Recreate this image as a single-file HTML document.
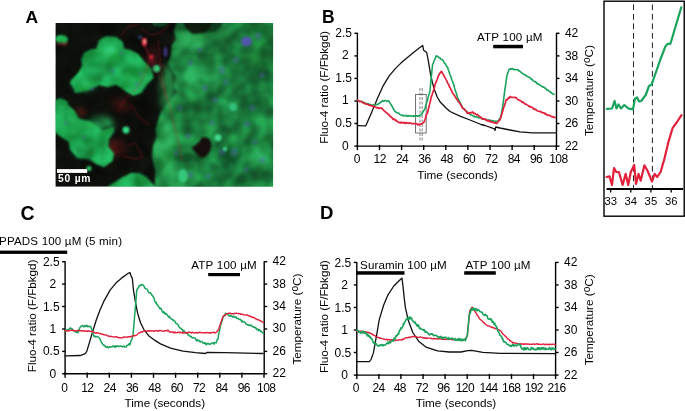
<!DOCTYPE html>
<html><head><meta charset="utf-8"><title>Figure</title>
<style>
html,body{margin:0;padding:0;background:#fff;}
body{width:685px;height:411px;overflow:hidden;}
svg{display:block;font-family:"Liberation Sans",Arial,sans-serif;}
</style></head><body>
<svg width="685" height="411" viewBox="0 0 685 411">
<defs>
<clipPath id="ca"><rect x="55.4" y="23.0" width="217.7" height="163.7"/></clipPath>
<filter id="b1" x="-20%" y="-20%" width="140%" height="140%"><feGaussianBlur stdDeviation="1.1"/></filter>
<filter id="b2" x="-20%" y="-20%" width="140%" height="140%"><feGaussianBlur stdDeviation="0.8"/></filter>
<filter id="b3" x="-30%" y="-30%" width="160%" height="160%"><feGaussianBlur stdDeviation="3"/></filter>
<filter id="nz" x="0" y="0" width="100%" height="100%" color-interpolation-filters="sRGB"><feTurbulence type="fractalNoise" baseFrequency="0.06" numOctaves="2" seed="11" result="t"/><feColorMatrix in="t" type="matrix" values="1.8 0 0 0 -0.45  1.8 0 0 0 -0.45  1.8 0 0 0 -0.45  0 0 0 0 1"/></filter>
</defs>
<g clip-path="url(#ca)">
<rect x="55.4" y="23.0" width="217.7" height="163.7" fill="#0d0f0b"/>
<g filter="url(#b3)" opacity="0.55">
<ellipse cx="116" cy="148" rx="10" ry="8" fill="#6a1418"/>
<ellipse cx="80" cy="113" rx="7" ry="4" fill="#6a1418"/>
<ellipse cx="122" cy="107" rx="9" ry="4" fill="#5a1216"/>
<ellipse cx="118" cy="100" rx="8" ry="4" fill="#3a0c10"/>
<ellipse cx="152" cy="60" rx="6" ry="14" fill="#4a1014"/>
</g>
<g filter="url(#b1)">
<polygon points="176.7,20.0 173.8,31.7 176.7,39.5 171.8,45.3 170.9,55.0 167.9,62.8 171.8,70.6 175.7,76.4 173.8,86.1 176.7,92.0 172.0,98.0 166.5,104.6 160.4,111.9 158.0,121.6 155.5,130.0 156.8,137.4 153.1,146.0 151.9,155.7 154.3,165.4 155.5,172.7 154.3,190.0 280.0,190.0 280.0,18.0" fill="#1c7e3c"/>
<polygon points="70.1,82.8 75.2,93.0 87.1,91.3 99.1,84.9 107.6,87.1 116.1,84.9 122.9,89.6 133.1,95.6 141.7,93.0 146.8,84.5 153.6,77.7 151.9,69.2 145.1,62.4 138.3,53.9 129.7,49.6 123.8,48.7 122.9,41.9 116.1,36.8 105.9,36.0 99.1,40.2 96.5,48.7 90.6,49.6 83.7,53.0 81.2,59.0 82.0,65.8 78.6,72.6 71.8,79.4" fill="#1ca24e"/>
<polygon points="74.6,110.7 79.0,118.8 89.2,120.5 96.5,126.1 102.3,130.4 108.2,128.2 113.3,126.8 114.3,131.9 108.9,139.2 108.2,146.5 114.0,153.8 112.6,161.1 103.8,167.2 96.5,164.3 89.2,159.6 77.5,158.2 70.2,149.4 68.8,142.1 60.0,136.3 53.4,130.4 53.4,102.7 62.9,103.4 68.8,105.6" fill="#1ca24e"/>
<polygon points="53.0,107.0 55.0,100.0 61.0,98.0 67.0,101.0 69.0,107.0" fill="#1ca24e"/>
<polygon points="106.0,188.0 115.0,182.0 123.0,177.0 131.0,173.0 139.0,173.0 147.0,177.0 151.0,182.0 156.0,188.0" fill="#1ca24e"/>
<polygon points="151.7,21.0 153.7,25.4 161.6,27.0 167.6,25.4 169.6,21.0" fill="#14502c"/>
<ellipse cx="61.5" cy="39.2" rx="6.6" ry="4.2" fill="#25bd62"/>
<ellipse cx="62" cy="44" rx="6" ry="1.6" fill="#7a2028" opacity="0.8"/>
</g>
<g filter="url(#b3)">
<ellipse cx="192" cy="40" rx="16" ry="9" fill="#2eb45e" opacity="0.8"/>
<ellipse cx="168" cy="90" rx="8" ry="26" fill="#2bb05a" opacity="0.7"/>
<ellipse cx="166" cy="150" rx="9" ry="30" fill="#2bb05a" opacity="0.75"/>
<ellipse cx="180" cy="178" rx="14" ry="8" fill="#2eb45e" opacity="0.7"/>
<ellipse cx="205" cy="75" rx="22" ry="18" fill="#26a052" opacity="0.6"/>
<ellipse cx="250" cy="40" rx="14" ry="10" fill="#29a856" opacity="0.6"/>
<ellipse cx="262" cy="150" rx="10" ry="22" fill="#29a856" opacity="0.6"/>
<ellipse cx="232" cy="110" rx="16" ry="10" fill="#26a052" opacity="0.5"/>
<ellipse cx="250" cy="90" rx="18" ry="22" fill="#176c34" opacity="0.55"/>
<ellipse cx="258" cy="48" rx="18" ry="26" fill="#125c28" opacity="0.6"/>
<ellipse cx="226" cy="36" rx="12" ry="10" fill="#14602f" opacity="0.45"/>
<ellipse cx="225" cy="165" rx="26" ry="14" fill="#187238" opacity="0.55"/>
<ellipse cx="215" cy="50" rx="14" ry="10" fill="#187238" opacity="0.4"/>
<ellipse cx="240" cy="130" rx="14" ry="12" fill="#1a773a" opacity="0.4"/>
</g>
<g filter="url(#b3)">
<ellipse cx="110" cy="52" rx="12" ry="8" fill="#2bc466" opacity="0.7"/>
<ellipse cx="85" cy="85" rx="10" ry="6" fill="#2bc466" opacity="0.7"/>
<ellipse cx="135" cy="80" rx="12" ry="8" fill="#29c062" opacity="0.6"/>
<ellipse cx="100" cy="125" rx="14" ry="8" fill="#2bc466" opacity="0.7"/>
<ellipse cx="70" cy="125" rx="10" ry="10" fill="#23b458" opacity="0.5"/>
<ellipse cx="100" cy="72" rx="14" ry="8" fill="#178a48" opacity="0.5"/>
<ellipse cx="85" cy="150" rx="12" ry="8" fill="#1a9550" opacity="0.4"/>
</g>
<rect x="55.4" y="23.0" width="217.7" height="163.7" filter="url(#nz)" style="mix-blend-mode:overlay" opacity="0.33"/>
<g filter="url(#b1)">
<polygon points="203.0,21.0 204.0,33.0 213.0,32.0 221.0,27.0 223.0,21.0" fill="#0f3a1f"/>
<polygon points="183.0,21.0 185.4,28.6 193.0,34.0 204.0,33.0 210.0,28.0 213.0,21.0" fill="#0c1a10"/>
<polygon points="192.2,147.4 196.2,144.5 200.0,140.7 201.7,137.2 206.5,137.2 210.4,140.1 211.6,144.7 210.4,150.4 207.6,154.8 203.0,158.0 199.5,157.0 196.2,153.1 192.8,149.8" fill="#150c08"/>
</g>
<g filter="url(#b2)">
<ellipse cx="156.6" cy="68.6" rx="3.6" ry="3.6" fill="#2fd07a"/>
<ellipse cx="126" cy="130" rx="3.4" ry="3.4" fill="#35dc86"/>
<ellipse cx="218" cy="137.6" rx="3.6" ry="3.6" fill="#3fd98a"/>
<ellipse cx="183" cy="176" rx="4.5" ry="6.75" fill="#36c87c"/>
<ellipse cx="225" cy="149" rx="2.2" ry="2.2" fill="#3fd98a"/>
<ellipse cx="233" cy="107" rx="4" ry="4" fill="#33c078"/>
<ellipse cx="89" cy="168.5" rx="2.5" ry="2.5" fill="#2bc466"/>
<ellipse cx="190" cy="63" rx="2.5" ry="3" fill="#4a5cb0" opacity="0.38"/>
<ellipse cx="222" cy="70" rx="3" ry="4" fill="#4a5cb0" opacity="0.38"/>
<ellipse cx="205" cy="88" rx="3" ry="3" fill="#4a5cb0" opacity="0.38"/>
<ellipse cx="236" cy="60" rx="3" ry="3" fill="#4a5cb0" opacity="0.38"/>
<ellipse cx="258" cy="36" rx="3" ry="4" fill="#4a5cb0" opacity="0.38"/>
<ellipse cx="188" cy="136" rx="3" ry="2.5" fill="#4a5cb0" opacity="0.38"/>
<ellipse cx="212" cy="123" rx="3" ry="2.5" fill="#4a5cb0" opacity="0.38"/>
<ellipse cx="247" cy="124" rx="3.5" ry="3" fill="#4a5cb0" opacity="0.38"/>
<ellipse cx="222" cy="152" rx="3" ry="3.5" fill="#4a5cb0" opacity="0.38"/>
<ellipse cx="234" cy="152" rx="3.5" ry="4" fill="#4a5cb0" opacity="0.38"/>
<ellipse cx="255" cy="142" rx="3" ry="2.5" fill="#4a5cb0" opacity="0.38"/>
<ellipse cx="262" cy="160" rx="3" ry="3" fill="#4a5cb0" opacity="0.38"/>
<ellipse cx="190" cy="175" rx="2.5" ry="3" fill="#4a5cb0" opacity="0.38"/>
<ellipse cx="180" cy="108" rx="2.5" ry="2.5" fill="#4a5cb0" opacity="0.38"/>
<ellipse cx="215" cy="100" rx="3" ry="3" fill="#4a5cb0" opacity="0.38"/>
<ellipse cx="246" cy="170" rx="2.5" ry="2.5" fill="#4a5cb0" opacity="0.38"/>
<ellipse cx="226" cy="82" rx="2.5" ry="3" fill="#4a5cb0" opacity="0.38"/>
<ellipse cx="262" cy="75" rx="3" ry="3" fill="#4a5cb0" opacity="0.38"/>
<ellipse cx="200" cy="50" rx="2.5" ry="2.5" fill="#4a5cb0" opacity="0.38"/>
<ellipse cx="122" cy="53" rx="2" ry="2" fill="#4a5cb0" opacity="0.38"/>
<ellipse cx="113" cy="71" rx="2" ry="2" fill="#4a5cb0" opacity="0.38"/>
<ellipse cx="92" cy="89" rx="2" ry="2" fill="#4a5cb0" opacity="0.38"/>
<ellipse cx="140" cy="74" rx="2" ry="2" fill="#4a5cb0" opacity="0.38"/>
<ellipse cx="137" cy="84" rx="2" ry="2" fill="#4a5cb0" opacity="0.38"/>
<ellipse cx="66" cy="123" rx="2" ry="2" fill="#4a5cb0" opacity="0.38"/>
<ellipse cx="84" cy="137" rx="2" ry="2" fill="#4a5cb0" opacity="0.38"/>
<ellipse cx="176" cy="153" rx="2" ry="2.5" fill="#4a5cb0" opacity="0.38"/>
<ellipse cx="208" cy="176" rx="2.5" ry="2.5" fill="#4a5cb0" opacity="0.38"/>
<ellipse cx="252" cy="108" rx="3" ry="3" fill="#4a5cb0" opacity="0.38"/>
<ellipse cx="246.5" cy="41.5" rx="5.5" ry="5" fill="#5a54c0" opacity="0.85"/>
</g>
<g fill="none" stroke="#c0202c" stroke-width="0.6" opacity="0.75" filter="url(#b2)">
<path d="M144.5 45 L149 55 L152 60 L159 64 L166 68"/>
<path d="M144 44 L150 58 L156 70 L162 84 L168 100 L173 120 L178 140 L182 160"/>
<path d="M158 40 L160 60 L163 80 L166 100"/>
<path d="M121 36 L128 27 L140 24"/>
<path d="M140 28 L150 35 L160 33 L170 25"/>
<path d="M150 60 L140 85 L125 100 L118 112"/>
<path d="M128 146 L135 143 L143 157 L135 159 L123 156"/>
<path d="M130 104 L140 118 L150 125"/>
</g>
<g filter="url(#b2)">
<ellipse cx="144.4" cy="42" rx="2.6" ry="4.2" fill="#e0283c"/>
<ellipse cx="144.6" cy="41.5" rx="1.2" ry="2" fill="#f4a0a8"/>
<ellipse cx="151.5" cy="57" rx="1.8" ry="2.2" fill="#d82436"/>
<ellipse cx="165.5" cy="52" rx="1.8" ry="5" fill="#4a3c9c" opacity="0.8"/>
<ellipse cx="140" cy="37" rx="1.6" ry="1.6" fill="#3060b0" opacity="0.8"/>
</g>
</g>
<rect x="57" y="169.1" width="30.2" height="3.8" fill="#fff"/>
<text x="58" y="182.4" font-size="10.3" font-weight="bold" fill="#fff" textLength="32.5">50 µm</text>
<g stroke="#000" stroke-width="1.4" fill="none">
<path d="M357.4 32.8 V146.1 H556.5 V32.8"/>
<path d="M357.4 146.1 h-3"/>
<path d="M556.5 146.1 h3"/>
<path d="M357.4 123.5 h-3"/>
<path d="M556.5 123.5 h3"/>
<path d="M357.4 101.0 h-3"/>
<path d="M556.5 101.0 h3"/>
<path d="M357.4 78.4 h-3"/>
<path d="M556.5 78.4 h3"/>
<path d="M357.4 55.9 h-3"/>
<path d="M556.5 55.9 h3"/>
<path d="M357.4 33.3 h-3"/>
<path d="M556.5 33.3 h3"/>
<path d="M357.4 144.9 v5.2"/>
<path d="M379.5 144.9 v5.2"/>
<path d="M401.6 144.9 v5.2"/>
<path d="M423.7 144.9 v5.2"/>
<path d="M445.8 144.9 v5.2"/>
<path d="M467.9 144.9 v5.2"/>
<path d="M490.0 144.9 v5.2"/>
<path d="M512.1 144.9 v5.2"/>
<path d="M534.2 144.9 v5.2"/>
<path d="M556.3 144.9 v5.2"/>
</g>
<g font-size="12" fill="#000">
<text x="348.6" y="149.5" text-anchor="end">0</text>
<text x="564.9" y="149.7">22</text>
<text x="351.9" y="126.9" text-anchor="end">0.5</text>
<text x="564.9" y="127.1">26</text>
<text x="348.6" y="104.4" text-anchor="end">1</text>
<text x="564.9" y="104.6">30</text>
<text x="351.9" y="81.8" text-anchor="end">1.5</text>
<text x="564.9" y="82.0">34</text>
<text x="348.6" y="59.3" text-anchor="end">2</text>
<text x="564.9" y="59.5">38</text>
<text x="351.9" y="36.7" text-anchor="end">2.5</text>
<text x="564.9" y="36.9">42</text>
<text x="357.0" y="163.0" text-anchor="middle">0</text>
<text x="379.7" y="163.0" text-anchor="middle" letter-spacing="-0.6">12</text>
<text x="402.0" y="163.0" text-anchor="middle" letter-spacing="-0.6">24</text>
<text x="424.4" y="163.0" text-anchor="middle" letter-spacing="-0.6">36</text>
<text x="446.7" y="163.0" text-anchor="middle" letter-spacing="-0.6">48</text>
<text x="469.1" y="163.0" text-anchor="middle" letter-spacing="-0.6">60</text>
<text x="491.4" y="163.0" text-anchor="middle" letter-spacing="-0.6">72</text>
<text x="513.8" y="163.0" text-anchor="middle" letter-spacing="-0.6">84</text>
<text x="536.1" y="163.0" text-anchor="middle" letter-spacing="-0.6">96</text>
<text x="558.4" y="163.0" text-anchor="middle" letter-spacing="-0.6">108</text>
</g>
<g font-size="11.6" fill="#000">
<text x="457.5" y="178.5" text-anchor="middle" textLength="80.6" lengthAdjust="spacingAndGlyphs">Time (seconds)</text>
<text transform="translate(328.4 87.4) rotate(-90)" text-anchor="middle" textLength="112.7" lengthAdjust="spacingAndGlyphs">Fluo-4 ratio (F/Fbkgd)</text>
<text transform="translate(592.7 90.6) rotate(-90)" text-anchor="middle" textLength="91" lengthAdjust="spacingAndGlyphs">Temperature (<tspan font-size="10" dy="-3">o</tspan><tspan dy="3">C)</tspan></text>
</g>
<rect x="415.5" y="94.5" width="10.7" height="38.5" fill="none" stroke="#666" stroke-width="0.9"/>
<path d="M420 88V141M422.2 88V141" stroke="#555" stroke-width="0.7" stroke-dasharray="3 1.5" fill="none"/>
<polyline points="357.5,125.7 365.8,125.8 371.7,112.2 377.5,98.2 383.4,85.3 389.2,75.9 395.1,68.9 400.9,63.1 406.8,57.9 412.6,53.2 418.5,48.6 422.7,45.5 423.6,50.2 426.7,52.5 428.3,60.7 430.2,72.4 432.5,83.0 434.9,91.1 437.2,97.0 440.0,101.7 446.0,108.0 450.0,111.5 460.0,116.2 470.0,120.0 481.0,124.5 485.0,125.5 494.5,128.8 495.0,130.5 495.8,127.0 500.0,128.0 510.0,130.0 520.0,131.8 532.5,132.8 556.2,132.8" fill="none" stroke="#111" stroke-width="1.30" stroke-linejoin="round" stroke-linecap="round"/>
<polyline points="357.5,100.3 358.2,100.8 358.9,100.8 359.6,101.3 360.4,101.5 361.1,101.3 361.8,101.5 362.5,102.4 363.2,102.1 363.9,102.4 364.6,103.3 365.4,103.0 366.1,103.6 366.8,103.5 367.5,103.9 368.3,103.7 369.1,104.3 369.8,104.7 370.6,104.6 371.4,105.1 372.2,105.2 373.0,104.9 373.8,105.7 374.5,105.3 375.2,104.8 375.9,104.3 376.6,104.8 377.3,104.2 378.0,104.2 378.8,103.8 379.5,103.1 380.2,102.8 381.0,101.7 381.8,101.6 382.5,100.7 383.3,101.2 384.1,101.2 384.8,100.5 385.6,100.5 386.4,100.7 387.2,101.4 388.0,100.9 388.8,101.1 389.5,102.1 390.3,103.6 391.1,104.7 391.9,106.0 392.7,107.5 393.4,108.8 394.2,110.3 395.0,111.4 395.8,112.1 396.5,112.4 397.2,113.0 398.0,113.1 398.8,113.1 399.5,114.1 400.2,114.6 401.0,115.0 401.8,115.1 402.5,115.7 403.2,115.3 404.0,115.9 404.7,115.7 405.4,115.5 406.2,115.3 406.9,116.1 407.6,116.2 408.4,115.5 409.1,116.2 409.9,115.9 410.6,115.7 411.3,115.8 412.1,116.3 412.8,116.5 413.5,115.8 414.3,116.3 415.0,115.8 415.8,116.3 416.6,115.8 417.3,116.1 418.1,116.1 418.9,115.5 419.7,115.8 420.5,115.0 421.2,114.6 422.0,113.8 422.8,112.1 423.5,111.0 424.2,109.9 425.0,108.8 425.8,105.5 426.7,102.5 427.5,100.3 428.3,96.5 429.2,93.7 430.0,90.4 430.8,81.6 431.7,73.3 432.5,65.0 433.2,63.2 434.0,61.3 434.8,59.4 435.5,57.5 436.2,55.9 437.0,56.1 437.8,56.6 438.6,57.4 439.4,57.5 440.2,58.1 440.9,59.3 441.7,59.5 442.5,60.0 443.2,60.6 443.9,62.1 444.6,63.3 445.4,63.9 446.1,65.5 446.8,66.5 447.5,67.1 448.3,69.8 449.1,71.8 449.8,74.2 450.6,76.1 451.4,78.6 452.2,80.8 453.0,82.4 453.8,84.6 454.5,87.7 455.2,90.4 456.0,92.3 456.8,95.0 457.5,97.6 458.2,98.8 458.9,100.2 459.6,101.6 460.4,103.1 461.1,104.7 461.8,105.9 462.5,107.4 463.3,108.5 464.1,108.6 464.8,109.9 465.6,110.8 466.4,111.2 467.2,111.9 468.0,113.2 468.8,113.5 469.5,113.8 470.2,114.4 470.9,115.0 471.6,114.8 472.3,115.4 473.0,115.7 473.8,116.6 474.5,116.4 475.3,117.0 476.1,116.6 476.9,117.0 477.7,117.5 478.4,117.9 479.2,117.7 480.0,117.8 480.8,117.9 481.5,118.4 482.2,118.3 483.0,119.1 483.8,119.3 484.5,118.9 485.2,119.2 486.0,119.9 486.8,119.9 487.5,120.3 488.2,120.0 488.9,119.9 489.6,120.2 490.4,120.8 491.1,120.4 491.8,120.6 492.5,120.8 493.2,120.9 494.0,121.0 494.7,121.6 495.4,121.1 496.1,121.1 496.9,121.5 497.8,121.0 498.6,120.7 499.6,118.6 500.7,117.4 501.7,112.2 502.7,106.4 503.4,101.4 504.1,95.9 504.8,90.2 505.9,82.9 506.9,75.5 507.9,72.7 508.9,69.7 509.6,69.1 510.3,69.2 511.0,68.6 511.8,69.2 512.5,68.6 513.3,69.4 514.1,69.3 514.9,69.6 515.7,69.7 516.4,69.8 517.2,69.6 518.0,69.7 518.8,71.0 519.7,71.1 520.5,71.8 521.3,72.7 522.1,73.1 522.8,73.4 523.6,74.4 524.3,74.6 525.1,74.8 525.8,75.2 526.6,76.2 527.3,76.3 528.1,77.0 528.8,77.1 529.6,77.4 530.4,78.3 531.1,79.1 531.9,79.1 532.6,80.2 533.4,80.9 534.1,81.4 534.9,81.9 535.6,81.8 536.4,82.9 537.1,83.7 537.9,83.5 538.6,84.2 539.4,84.6 540.1,85.3 540.9,85.7 541.6,86.2 542.4,87.0 543.1,86.8 543.9,87.3 544.6,87.8 545.4,88.3 546.1,88.7 546.8,90.0 547.5,90.4 548.3,90.3 549.0,91.1 549.7,91.5 550.4,92.0 551.1,92.5 551.8,93.3 552.6,93.8 553.3,94.1 554.0,94.4" fill="none" stroke="#19a35c" stroke-width="1.60" stroke-linejoin="round" stroke-linecap="round"/>
<polyline points="357.5,100.3 358.2,100.3 358.9,101.1 359.6,101.6 360.4,101.5 361.1,101.4 361.8,101.8 362.5,102.3 363.2,102.9 363.9,103.4 364.6,103.2 365.4,104.0 366.1,104.1 366.8,104.1 367.5,104.3 368.2,104.7 369.0,105.2 369.8,105.2 370.5,105.7 371.2,105.7 372.0,105.7 372.8,106.3 373.5,106.7 374.2,106.2 375.0,106.9 375.8,107.1 376.5,107.8 377.2,108.0 378.0,107.5 378.8,108.4 379.5,108.4 380.2,107.9 381.0,108.4 381.8,108.1 382.5,109.1 383.2,109.7 383.9,110.6 384.6,111.2 385.4,111.8 386.1,112.6 386.8,113.1 387.5,113.3 388.2,114.6 388.9,114.6 389.6,115.5 390.4,116.9 391.1,116.8 391.8,117.5 392.5,118.3 393.2,119.6 394.0,119.1 394.8,119.3 395.5,120.7 396.2,120.2 397.0,121.4 397.8,121.6 398.5,122.2 399.2,122.7 400.0,122.6 400.7,122.9 401.4,122.1 402.1,123.0 402.9,122.7 403.6,123.0 404.3,122.3 405.0,123.2 405.7,123.5 406.4,122.5 407.1,122.8 407.9,123.2 408.6,123.5 409.3,122.9 410.0,122.9 410.7,123.0 411.4,123.6 412.1,123.8 412.9,123.5 413.6,123.5 414.3,123.7 415.0,123.7 415.7,123.9 416.4,123.6 417.1,124.1 417.9,124.8 418.6,124.2 419.3,124.7 420.0,124.1 420.8,124.3 421.5,124.0 422.2,123.5 423.0,122.9 423.8,122.5 424.5,120.7 425.2,119.0 426.0,116.1 426.8,114.0 427.5,112.8 428.2,110.0 429.0,106.5 429.8,103.4 430.5,100.8 431.2,97.1 432.1,94.7 432.9,92.1 433.8,90.1 435.0,84.8 435.8,82.7 436.5,81.2 437.2,79.5 438.0,76.8 438.8,75.2 439.6,73.6 440.4,72.9 441.2,71.4 442.0,72.2 442.7,73.4 443.4,74.4 444.1,76.2 444.8,77.4 445.5,78.4 446.2,79.8 447.0,81.3 447.8,83.5 448.6,84.3 449.4,86.8 450.2,87.8 450.9,89.5 451.7,90.9 452.5,92.9 453.2,94.0 453.9,94.7 454.6,95.7 455.4,97.1 456.1,98.3 456.8,98.8 457.5,100.3 458.2,101.6 458.9,102.1 459.6,102.9 460.4,104.0 461.1,105.6 461.8,106.6 462.5,108.1 463.2,108.7 463.9,108.8 464.6,109.5 465.4,110.4 466.1,111.1 466.8,112.5 467.5,113.4 468.2,113.4 468.9,112.6 469.6,113.2 470.4,112.5 471.1,112.6 471.8,112.8 472.5,112.0 473.2,112.4 473.9,113.6 474.6,113.3 475.4,113.8 476.1,114.4 476.8,114.9 477.5,114.4 478.2,115.3 478.9,116.0 479.6,116.6 480.4,116.8 481.1,117.8 481.8,118.8 482.5,118.6 483.2,119.1 484.0,118.8 484.8,119.2 485.5,119.9 486.2,119.5 487.0,120.7 487.8,121.0 488.5,120.3 489.2,121.5 490.0,121.1 490.8,121.8 491.6,122.1 492.3,121.8 493.1,122.5 493.9,122.7 494.7,123.1 495.5,122.7 496.2,123.6 497.0,123.2 497.8,122.2 498.5,121.3 499.2,120.2 500.0,120.0 500.8,117.3 501.5,115.3 502.2,112.7 503.0,110.1 503.8,107.1 504.6,105.2 505.4,102.7 506.2,99.6 507.0,99.9 507.8,99.0 508.5,97.7 509.2,98.1 510.0,96.6 510.7,96.9 511.4,97.4 512.1,97.3 512.9,97.4 513.6,97.5 514.3,97.4 515.0,97.3 515.7,97.6 516.4,97.9 517.1,99.1 517.9,99.6 518.6,99.8 519.3,100.5 520.0,100.5 520.7,100.8 521.4,101.4 522.1,102.4 522.9,101.9 523.6,102.9 524.3,103.0 525.0,104.1 525.7,104.0 526.4,104.4 527.1,104.9 527.9,105.4 528.6,106.1 529.3,106.0 530.0,107.0 530.7,106.6 531.4,107.2 532.1,107.4 532.9,107.8 533.6,109.0 534.3,109.4 535.0,109.1 535.7,109.4 536.4,110.0 537.1,110.7 537.9,111.1 538.6,111.3 539.3,111.4 540.0,111.2 540.7,111.8 541.4,111.9 542.1,112.6 542.9,112.9 543.6,112.8 544.3,113.1 545.0,114.1 545.7,113.5 546.4,114.6 547.1,115.0 547.9,115.4 548.6,114.9 549.3,115.4 550.0,115.7 550.7,116.1 551.4,116.7 552.1,116.7 552.9,116.5 553.6,117.4 554.3,117.2 555.0,117.6" fill="none" stroke="#e2203c" stroke-width="1.70" stroke-linejoin="round" stroke-linecap="round"/>
<rect x="493.2" y="44.8" width="29.8" height="3.5" fill="#000"/>
<text x="477" y="40.5" font-size="11.6" textLength="65.5">ATP 100 µM</text>
<rect x="604" y="1.2" width="80.2" height="215" fill="#fff" stroke="#000" stroke-width="1.4"/>
<path d="M633.5 4.4V189M652.4 4.4V189" stroke="#222" stroke-width="1" stroke-dasharray="5.8 3.7" fill="none"/>
<path d="M606.6 189H683" stroke="#000" stroke-width="1.8" fill="none"/>
<path d="M610.7 189v3.5M630.8 189v3.5M650.9 189v3.5M671.2 189v3.5" stroke="#000" stroke-width="1.3" fill="none"/>
<g font-size="11.3" text-anchor="middle">
<text x="610.7" y="204.5">33</text>
<text x="630.8" y="204.5">34</text>
<text x="650.9" y="204.5">35</text>
<text x="671.2" y="204.5">36</text>
</g>
<polyline points="606.8,108.8 612.0,108.5 614.6,101.0 616.5,108.4 618.5,104.5 621.0,108.4 624.3,105.0 628.2,108.4 633.0,109.3 635.0,98.6 637.0,97.3 639.0,101.5 641.2,101.0 645.7,95.0 649.0,86.0 651.5,84.6 652.5,82.0 660.2,60.0 665.3,46.7 667.5,43.8 670.4,43.8 672.6,36.5 681.3,7.3" fill="none" stroke="#19a35c" stroke-width="2.20" stroke-linejoin="round" stroke-linecap="round"/>
<polyline points="606.6,177.0 609.5,176.4 612.0,185.0 614.0,168.0 616.3,172.0 618.9,172.0 622.6,185.0 625.7,173.9 628.2,185.0 630.8,172.0 634.2,165.0 636.0,184.0 638.5,173.9 640.7,180.7 644.4,165.3 647.8,171.3 652.0,181.5 654.7,173.9 657.2,177.0 660.6,172.0 664.5,158.5 668.3,142.4 672.7,127.8 677.0,122.0 681.5,115.2" fill="none" stroke="#e2203c" stroke-width="2.20" stroke-linejoin="round" stroke-linecap="round"/>
<g stroke="#000" stroke-width="1.4" fill="none">
<path d="M65.1 261.2 V373.8 H264.2 V261.2"/>
<path d="M65.1 373.8 h-3"/>
<path d="M264.2 373.8 h3"/>
<path d="M65.1 351.4 h-3"/>
<path d="M264.2 351.4 h3"/>
<path d="M65.1 329.0 h-3"/>
<path d="M264.2 329.0 h3"/>
<path d="M65.1 306.5 h-3"/>
<path d="M264.2 306.5 h3"/>
<path d="M65.1 284.1 h-3"/>
<path d="M264.2 284.1 h3"/>
<path d="M65.1 261.7 h-3"/>
<path d="M264.2 261.7 h3"/>
<path d="M65.1 372.6 v5.2"/>
<path d="M87.2 372.6 v5.2"/>
<path d="M109.3 372.6 v5.2"/>
<path d="M131.4 372.6 v5.2"/>
<path d="M153.5 372.6 v5.2"/>
<path d="M175.6 372.6 v5.2"/>
<path d="M197.7 372.6 v5.2"/>
<path d="M219.8 372.6 v5.2"/>
<path d="M241.9 372.6 v5.2"/>
<path d="M264.0 372.6 v5.2"/>
</g>
<g font-size="12" fill="#000">
<text x="56.3" y="377.8" text-anchor="end">0</text>
<text x="272.6" y="377.2">22</text>
<text x="59.6" y="355.4" text-anchor="end">0.5</text>
<text x="272.6" y="354.8">26</text>
<text x="56.3" y="333.0" text-anchor="end">1</text>
<text x="272.6" y="332.4">30</text>
<text x="59.6" y="310.5" text-anchor="end">1.5</text>
<text x="272.6" y="309.9">34</text>
<text x="56.3" y="288.1" text-anchor="end">2</text>
<text x="272.6" y="287.5">38</text>
<text x="59.6" y="265.7" text-anchor="end">2.5</text>
<text x="272.6" y="265.1">42</text>
<text x="64.7" y="391.7" text-anchor="middle">0</text>
<text x="87.3" y="391.7" text-anchor="middle" letter-spacing="-0.6">12</text>
<text x="109.7" y="391.7" text-anchor="middle" letter-spacing="-0.6">24</text>
<text x="132.1" y="391.7" text-anchor="middle" letter-spacing="-0.6">36</text>
<text x="154.4" y="391.7" text-anchor="middle" letter-spacing="-0.6">48</text>
<text x="176.8" y="391.7" text-anchor="middle" letter-spacing="-0.6">60</text>
<text x="199.1" y="391.7" text-anchor="middle" letter-spacing="-0.6">72</text>
<text x="221.5" y="391.7" text-anchor="middle" letter-spacing="-0.6">84</text>
<text x="243.8" y="391.7" text-anchor="middle" letter-spacing="-0.6">96</text>
<text x="266.2" y="391.7" text-anchor="middle" letter-spacing="-0.6">108</text>
</g>
<g font-size="11.6" fill="#000">
<text x="164.8" y="407.0" text-anchor="middle" textLength="80.6" lengthAdjust="spacingAndGlyphs">Time (seconds)</text>
<text transform="translate(36.2 315.9) rotate(-90)" text-anchor="middle" textLength="112.7" lengthAdjust="spacingAndGlyphs">Fluo-4 ratio (F/Fbkgd)</text>
<text transform="translate(301.2 319.1) rotate(-90)" text-anchor="middle" textLength="91" lengthAdjust="spacingAndGlyphs">Temperature (<tspan font-size="10" dy="-3">o</tspan><tspan dy="3">C)</tspan></text>
</g>
<polyline points="65.0,355.9 80.5,355.5 82.0,354.9 84.8,353.9 86.7,351.6 89.0,343.9 92.5,332.2 96.1,320.5 99.6,311.1 104.2,300.6 110.1,290.1 115.9,283.1 121.8,277.9 127.6,273.7 130.0,272.5 131.1,276.0 132.3,278.4 133.5,290.1 135.4,301.8 137.7,313.5 140.5,322.8 144.0,329.8 148.7,335.7 155.0,340.4 160.5,343.9 170.5,348.1 183.0,351.2 195.5,352.7 205.5,353.5 206.8,352.5 225.5,352.7 263.0,353.5" fill="none" stroke="#111" stroke-width="1.30" stroke-linejoin="round" stroke-linecap="round"/>
<polyline points="65.0,331.4 65.8,329.5 66.6,330.7 67.4,330.2 68.1,329.5 68.9,329.2 69.7,328.7 70.5,327.8 71.3,329.1 72.2,328.8 73.0,330.4 73.7,330.9 74.4,330.8 75.1,331.3 75.9,332.3 76.6,332.4 77.3,331.2 78.0,332.7 78.8,330.7 79.7,327.9 80.5,326.9 81.3,326.2 82.2,325.5 83.0,326.0 83.8,326.8 84.5,325.5 85.2,326.6 86.0,326.3 86.8,325.2 87.5,326.6 88.2,326.1 89.0,326.8 89.8,326.3 90.5,326.4 91.8,329.3 92.6,332.3 93.4,334.7 94.2,336.6 95.0,336.1 95.7,337.1 96.4,336.9 97.1,336.5 97.8,336.8 98.5,337.2 99.2,337.8 100.0,339.0 100.8,340.9 101.5,342.5 102.2,343.5 103.0,344.5 103.8,345.4 104.5,345.3 105.2,346.1 106.0,347.2 106.8,347.0 107.5,346.5 108.2,347.9 108.9,347.5 109.7,346.7 110.4,346.7 111.1,347.0 111.9,347.1 112.6,346.3 113.3,345.8 114.0,346.2 114.8,347.3 115.5,345.9 116.2,346.6 116.9,346.1 117.6,346.2 118.4,346.1 119.1,346.6 119.8,346.2 120.5,346.0 121.2,346.2 121.9,346.3 122.6,347.0 123.4,346.2 124.1,346.1 124.8,347.0 125.5,347.0 126.2,347.0 126.9,345.2 127.6,345.3 128.4,344.8 129.1,343.5 129.8,344.9 130.5,342.8 131.3,340.1 132.2,338.3 133.0,335.2 134.2,321.1 135.5,305.6 136.8,290.1 137.6,288.3 138.4,288.0 139.2,285.5 140.1,285.9 140.9,284.7 141.8,285.0 142.5,284.6 143.3,285.3 144.1,286.2 144.9,288.2 145.7,288.6 146.4,288.9 147.2,289.2 148.0,291.3 148.7,292.7 149.4,292.9 150.1,292.6 150.9,293.5 151.6,294.5 152.3,295.6 153.0,296.2 153.8,297.8 154.7,300.6 155.5,302.7 156.2,302.3 157.0,304.8 157.8,304.9 158.5,306.5 159.2,307.7 160.0,308.8 160.8,308.0 161.5,309.5 162.2,311.1 163.0,312.8 163.7,311.6 164.4,312.6 165.1,314.3 165.9,313.3 166.6,314.4 167.3,314.9 168.0,316.1 168.7,317.2 169.4,316.2 170.1,317.9 170.9,318.5 171.6,319.2 172.3,319.2 173.0,320.5 173.7,320.2 174.4,321.1 175.1,321.5 175.9,323.4 176.6,323.6 177.3,324.0 178.0,324.6 178.7,326.5 179.4,327.1 180.1,328.1 180.9,328.3 181.6,329.3 182.3,329.4 183.0,331.3 183.8,330.4 184.5,331.8 185.2,332.9 186.0,333.3 186.8,332.6 187.5,333.4 188.2,335.1 189.0,335.2 189.8,336.2 190.5,336.6 191.2,336.3 192.0,337.7 192.8,337.9 193.5,337.6 194.2,338.1 195.0,338.0 195.8,339.2 196.5,340.8 197.2,339.6 198.0,341.0 198.8,340.4 199.5,340.7 200.2,342.1 201.0,341.6 201.8,341.5 202.5,342.0 203.2,343.3 204.0,343.5 204.8,342.6 205.5,343.4 206.2,344.8 206.9,343.3 207.6,343.9 208.4,343.6 209.1,344.3 209.8,343.9 210.5,344.2 211.2,343.7 211.9,343.0 212.6,342.9 213.4,342.7 214.1,344.1 214.8,342.7 215.5,342.4 216.3,342.7 217.2,339.5 218.0,339.2 218.8,333.4 219.7,330.0 220.5,325.3 221.3,323.6 222.2,320.3 223.0,317.4 223.8,316.4 224.7,315.4 225.5,313.1 226.2,314.0 226.9,314.0 227.6,313.7 228.4,315.5 229.1,315.4 229.8,316.2 230.5,315.3 231.2,316.2 232.0,316.3 232.8,317.1 233.5,316.1 234.2,316.8 235.0,317.4 235.8,316.8 236.5,318.0 237.2,318.6 238.0,318.2 238.8,319.2 239.5,319.6 240.2,319.3 241.0,320.1 241.8,321.9 242.5,321.1 243.2,321.8 244.0,321.6 244.8,322.3 245.5,322.7 246.2,324.5 247.0,324.4 247.8,324.9 248.5,325.4 249.2,324.9 250.0,325.8 250.8,325.2 251.5,325.2 252.2,326.5 253.0,326.7 253.7,327.3 254.4,326.9 255.1,327.9 255.9,327.7 256.6,329.4 257.3,329.7 258.0,329.0 258.7,330.8 259.4,329.8 260.1,330.1 260.9,331.8 261.6,331.5 262.3,332.4 263.0,333.2" fill="none" stroke="#19a35c" stroke-width="1.50" stroke-linejoin="round" stroke-linecap="round"/>
<polyline points="65.0,330.5 65.7,331.1 66.4,330.6 67.1,330.7 67.8,330.6 68.5,331.0 69.2,330.9 69.9,330.5 70.6,330.3 71.3,330.4 72.0,330.5 72.7,330.2 73.4,330.2 74.1,330.7 74.8,330.6 75.5,330.8 76.2,330.9 76.9,330.8 77.6,330.4 78.4,330.3 79.1,330.5 79.8,330.7 80.5,330.8 81.2,330.8 81.9,330.7 82.6,331.2 83.4,330.7 84.1,330.9 84.8,331.4 85.5,331.3 86.2,330.9 86.9,330.9 87.6,331.5 88.4,330.8 89.1,331.0 89.8,331.4 90.5,331.4 91.2,331.3 91.9,331.4 92.6,331.7 93.4,332.4 94.1,332.3 94.8,332.9 95.5,332.9 96.2,333.3 96.9,332.6 97.6,332.9 98.4,332.9 99.1,333.5 99.8,333.6 100.5,333.5 101.2,334.1 101.9,333.9 102.6,334.3 103.4,334.4 104.1,335.1 104.8,334.9 105.5,334.9 106.2,334.9 106.9,335.4 107.6,335.8 108.4,336.0 109.1,336.4 109.8,336.5 110.5,336.2 111.2,336.2 111.9,336.8 112.6,336.9 113.4,336.8 114.1,337.1 114.8,337.0 115.5,336.8 116.2,336.8 116.9,336.8 117.6,337.4 118.4,337.7 119.1,337.8 119.8,337.5 120.5,337.8 121.2,338.0 121.9,337.8 122.6,337.5 123.4,337.3 124.1,337.3 124.8,336.9 125.5,336.9 126.2,337.2 126.9,337.5 127.6,337.0 128.4,336.8 129.1,336.7 129.8,336.7 130.5,336.9 131.2,336.4 131.9,336.7 132.6,335.8 133.4,335.8 134.1,335.8 134.8,335.5 135.5,335.7 136.2,335.2 136.9,334.9 137.6,334.1 138.4,333.1 139.1,333.1 139.8,332.7 140.5,332.1 141.2,331.8 141.9,332.0 142.6,332.0 143.4,331.1 144.1,331.4 144.8,331.0 145.5,330.9 146.2,331.3 146.9,331.3 147.6,331.0 148.4,330.6 149.1,331.3 149.8,330.6 150.5,330.8 151.2,331.2 151.9,330.7 152.6,330.7 153.4,331.3 154.1,331.3 154.8,330.7 155.5,330.8 156.2,330.7 156.9,330.6 157.6,330.7 158.4,331.3 159.1,330.5 159.8,330.7 160.5,330.6 161.2,330.5 161.9,330.9 162.6,331.1 163.4,331.2 164.1,331.0 164.8,331.2 165.5,330.5 166.3,330.5 167.2,331.0 168.0,330.0 168.8,331.1 169.5,332.1 170.2,332.0 170.9,332.2 171.6,331.8 172.3,332.0 173.1,332.7 173.8,332.0 174.5,332.7 175.2,332.1 175.9,332.8 176.6,332.6 177.3,332.6 178.0,332.1 178.7,332.1 179.4,332.8 180.2,332.3 180.9,332.3 181.6,332.9 182.3,333.0 183.0,332.2 183.7,333.1 184.4,332.7 185.1,332.5 185.8,332.3 186.5,332.6 187.2,333.1 187.9,332.5 188.7,332.3 189.4,332.3 190.1,332.3 190.8,332.5 191.5,333.0 192.2,332.3 192.9,332.4 193.6,333.0 194.3,333.1 195.0,333.1 195.7,332.4 196.4,332.5 197.1,333.1 197.8,332.6 198.5,332.8 199.2,332.5 200.0,332.2 200.7,332.5 201.4,332.9 202.1,332.9 202.8,332.7 203.5,332.6 204.2,332.7 204.9,332.6 205.6,332.7 206.3,332.9 207.0,332.4 207.7,332.7 208.4,333.0 209.1,333.0 209.8,332.4 210.6,333.1 211.3,333.0 212.0,332.4 212.7,332.4 213.4,332.4 214.1,332.2 214.8,333.1 215.5,332.6 216.3,332.4 217.2,331.1 218.0,330.5 218.8,328.7 219.7,326.2 220.5,323.8 221.3,321.2 222.2,318.8 223.0,316.6 223.7,315.6 224.4,315.6 225.1,315.1 225.9,314.4 226.6,314.3 227.3,313.7 228.0,313.4 228.7,313.3 229.4,313.2 230.1,313.3 230.9,313.5 231.6,313.8 232.3,313.8 233.0,313.7 233.7,313.7 234.4,313.2 235.1,313.8 235.9,313.2 236.6,313.1 237.3,313.4 238.0,313.6 238.7,313.4 239.4,313.8 240.1,313.6 240.9,314.4 241.6,314.1 242.3,314.2 243.0,314.4 243.7,314.9 244.4,315.1 245.1,314.9 245.9,314.9 246.6,315.2 247.3,314.9 248.0,315.3 248.8,316.0 249.5,316.2 250.2,315.9 251.0,316.9 251.8,316.8 252.5,317.6 253.2,317.4 254.0,317.5 254.8,318.1 255.5,318.7 256.2,318.7 257.0,319.5 257.8,319.7 258.5,319.8 259.2,320.1 260.0,320.7 260.8,320.9 261.5,321.3 262.2,321.9 263.0,322.5" fill="none" stroke="#e2203c" stroke-width="1.40" stroke-linejoin="round" stroke-linecap="round"/>
<rect x="208.2" y="273" width="31.8" height="3.2" fill="#000"/>
<text x="191.2" y="269.3" font-size="11.6" textLength="65.5">ATP 100 µM</text>
<rect x="0" y="250.6" width="67.2" height="3.3" fill="#000"/>
<text x="-1" y="245" font-size="11.6" textLength="123">PPADS 100 µM (5 min)</text>
<g stroke="#000" stroke-width="1.4" fill="none">
<path d="M356.8 261.9 V375.1 H555.6 V261.9"/>
<path d="M356.8 375.1 h-3"/>
<path d="M555.6 375.1 h3"/>
<path d="M356.8 352.5 h-3"/>
<path d="M555.6 352.5 h3"/>
<path d="M356.8 330.0 h-3"/>
<path d="M555.6 330.0 h3"/>
<path d="M356.8 307.5 h-3"/>
<path d="M555.6 307.5 h3"/>
<path d="M356.8 284.9 h-3"/>
<path d="M555.6 284.9 h3"/>
<path d="M356.8 262.4 h-3"/>
<path d="M555.6 262.4 h3"/>
<path d="M356.8 373.9 v5.2"/>
<path d="M378.9 373.9 v5.2"/>
<path d="M400.9 373.9 v5.2"/>
<path d="M423.1 373.9 v5.2"/>
<path d="M445.1 373.9 v5.2"/>
<path d="M467.2 373.9 v5.2"/>
<path d="M489.4 373.9 v5.2"/>
<path d="M511.5 373.9 v5.2"/>
<path d="M533.5 373.9 v5.2"/>
<path d="M555.6 373.9 v5.2"/>
</g>
<g font-size="12" fill="#000">
<text x="347.9" y="379.2" text-anchor="end">0</text>
<text x="564.0" y="378.7">22</text>
<text x="351.2" y="356.7" text-anchor="end">0.5</text>
<text x="564.0" y="356.1">26</text>
<text x="347.9" y="334.2" text-anchor="end">1</text>
<text x="564.0" y="333.6">30</text>
<text x="351.2" y="311.7" text-anchor="end">1.5</text>
<text x="564.0" y="311.1">34</text>
<text x="347.9" y="289.1" text-anchor="end">2</text>
<text x="564.0" y="288.5">38</text>
<text x="351.2" y="266.6" text-anchor="end">2.5</text>
<text x="564.0" y="266.0">42</text>
<text x="356.1" y="392.2" text-anchor="middle">0</text>
<text x="378.5" y="392.2" text-anchor="middle" letter-spacing="-0.6">24</text>
<text x="399.8" y="392.2" text-anchor="middle" letter-spacing="-0.6">48</text>
<text x="421.9" y="392.2" text-anchor="middle" letter-spacing="-0.6">72</text>
<text x="443.4" y="392.2" text-anchor="middle" letter-spacing="-0.6">96</text>
<text x="464.9" y="392.2" text-anchor="middle" letter-spacing="-0.6">120</text>
<text x="488.5" y="392.2" text-anchor="middle" letter-spacing="-0.6">144</text>
<text x="511.2" y="392.2" text-anchor="middle" letter-spacing="-0.6">168</text>
<text x="533.8" y="392.2" text-anchor="middle" letter-spacing="-0.6">192</text>
<text x="556.5" y="392.2" text-anchor="middle" letter-spacing="-0.6">216</text>
</g>
<g font-size="11.6" fill="#000">
<text x="456.0" y="407.4" text-anchor="middle" textLength="80.6" lengthAdjust="spacingAndGlyphs">Time (seconds)</text>
<text transform="translate(327.9 316.6) rotate(-90)" text-anchor="middle" textLength="112.7" lengthAdjust="spacingAndGlyphs">Fluo-4 ratio (F/Fbkgd)</text>
<text transform="translate(592.6 319.8) rotate(-90)" text-anchor="middle" textLength="91" lengthAdjust="spacingAndGlyphs">Temperature (<tspan font-size="10" dy="-3">o</tspan><tspan dy="3">C)</tspan></text>
</g>
<polyline points="356.4,361.6 369.3,361.6 371.0,359.6 373.4,352.9 376.3,336.8 379.2,319.9 383.6,305.3 388.0,294.8 393.8,286.0 399.6,280.2 402.0,278.1 403.1,287.2 404.3,298.9 405.5,308.2 408.4,320.8 412.8,332.5 418.6,341.2 425.9,347.1 437.6,350.8 449.3,352.0 460.9,352.0 467.8,350.7 471.6,350.4 482.8,352.4 500.3,353.4 555.3,353.7" fill="none" stroke="#111" stroke-width="1.30" stroke-linejoin="round" stroke-linecap="round"/>
<polyline points="356.8,331.3 357.5,331.0 358.3,331.1 359.0,331.2 359.7,331.5 360.5,331.2 361.2,331.2 361.9,331.4 362.7,331.4 363.4,331.3 364.1,331.7 364.9,332.1 365.6,331.8 366.3,332.0 367.1,332.2 367.8,332.2 368.5,332.6 369.2,332.6 369.9,333.2 370.7,333.1 371.4,334.0 372.1,334.0 372.8,334.4 373.5,335.2 374.2,335.2 374.9,335.6 375.7,336.6 376.4,336.9 377.1,336.9 377.8,337.3 378.6,337.8 379.3,337.7 380.1,338.5 380.8,338.1 381.6,338.4 382.3,338.7 383.1,338.9 383.8,339.0 384.6,339.4 385.3,339.6 386.0,339.5 386.7,339.2 387.4,340.0 388.2,339.8 388.9,339.4 389.6,339.7 390.3,340.0 391.0,340.3 391.7,339.6 392.4,339.6 393.2,340.0 393.9,340.0 394.6,340.5 395.3,340.5 396.1,340.0 396.9,340.1 397.6,340.2 398.4,340.4 399.2,339.8 400.0,339.9 400.8,339.7 401.6,340.1 402.3,339.2 403.0,339.7 403.7,339.0 404.4,338.7 405.1,338.0 405.8,337.8 406.6,337.7 407.3,337.9 408.1,337.5 408.8,337.2 409.6,337.6 410.3,337.2 411.1,337.0 411.8,336.6 412.6,336.5 413.3,336.9 414.1,336.2 414.8,336.6 415.5,336.8 416.2,336.6 417.0,337.1 417.7,337.3 418.4,337.4 419.2,337.4 419.9,337.0 420.6,337.0 421.3,337.4 422.1,337.4 422.8,337.5 423.5,338.1 424.3,337.6 425.0,338.2 425.7,338.3 426.5,337.8 427.2,338.5 427.9,338.1 428.7,338.1 429.4,338.1 430.2,338.1 430.9,338.5 431.6,338.5 432.4,338.9 433.1,339.0 433.8,338.4 434.6,338.8 435.3,338.9 436.0,338.7 436.7,338.8 437.4,338.8 438.2,339.2 438.9,338.9 439.6,338.8 440.3,338.9 441.0,339.1 441.7,339.2 442.4,339.0 443.2,339.4 443.9,339.0 444.6,339.4 445.3,339.4 446.0,339.0 446.7,339.5 447.4,339.3 448.2,339.4 448.9,339.5 449.6,339.5 450.3,339.4 451.0,339.1 451.7,339.7 452.4,339.8 453.2,339.5 453.9,339.6 454.6,339.4 455.3,339.9 456.0,339.8 456.7,339.4 457.4,339.9 458.2,340.1 458.9,339.6 459.6,340.2 460.3,339.8 461.0,339.6 461.7,340.0 462.4,339.7 463.2,340.1 463.9,340.0 464.6,339.6 465.3,340.0 466.3,338.1 467.3,335.7 468.1,327.4 469.0,319.3 469.8,310.7 470.6,309.4 471.3,308.3 472.1,307.2 472.9,308.0 473.7,309.1 474.5,310.9 475.3,312.0 476.0,312.9 476.7,314.4 477.4,315.5 478.2,316.3 478.9,317.7 479.6,318.6 480.3,319.6 481.1,320.0 481.9,320.5 482.6,321.7 483.4,322.5 484.2,322.9 485.0,323.7 485.8,324.5 486.6,325.0 487.3,325.7 488.1,325.9 488.8,326.0 489.6,326.1 490.3,326.7 491.1,326.9 491.8,327.5 492.6,327.3 493.3,327.8 494.1,328.0 494.8,328.4 495.6,328.9 496.4,328.8 497.2,329.1 498.0,329.7 498.7,329.8 499.5,330.4 500.3,330.4 501.1,331.3 501.9,332.5 502.6,333.7 503.4,334.5 504.2,335.1 505.0,335.9 505.8,336.5 506.6,337.5 507.3,338.2 508.1,339.3 508.9,339.3 509.7,340.6 510.5,340.8 511.2,341.4 512.0,341.9 512.8,343.1 513.5,342.6 514.3,343.0 515.0,343.1 515.8,343.0 516.5,343.1 517.3,343.8 518.0,343.8 518.8,343.9 519.5,344.1 520.3,343.6 521.0,344.1 521.7,344.2 522.4,343.8 523.1,344.0 523.8,344.4 524.5,343.9 525.2,344.2 525.9,343.8 526.6,344.2 527.3,343.9 528.0,344.1 528.7,344.0 529.4,344.4 530.1,344.3 530.8,344.1 531.5,344.3 532.2,344.1 532.9,344.4 533.6,343.9 534.3,344.2 535.0,344.2 535.7,344.1 536.4,343.8 537.1,343.9 537.8,344.3 538.5,344.0 539.2,344.4 539.9,344.2 540.6,344.6 541.3,344.5 542.0,344.4 542.7,344.2 543.4,343.9 544.1,344.3 544.8,344.5 545.5,344.6 546.2,344.1 546.9,344.1 547.6,344.7 548.3,344.5 549.0,344.3 549.7,344.6 550.4,344.1 551.1,344.4 551.8,344.5 552.5,344.5 553.2,344.1 553.9,344.1 554.6,344.5 555.3,344.8" fill="none" stroke="#e2203c" stroke-width="1.40" stroke-linejoin="round" stroke-linecap="round"/>
<polyline points="356.8,330.3 357.4,330.2 358.0,330.5 358.6,332.3 359.2,331.5 359.8,331.8 360.4,333.2 361.1,332.5 361.7,331.8 362.3,333.0 362.9,331.4 363.5,332.2 364.1,333.4 364.7,332.3 365.3,332.1 365.9,333.7 366.6,333.7 367.2,335.7 367.8,334.1 368.4,336.3 369.1,335.7 369.7,337.2 370.3,336.8 370.9,338.4 371.6,338.6 372.2,339.4 372.8,341.0 373.4,342.9 374.1,342.8 374.7,343.0 375.3,343.8 375.9,343.4 376.6,344.4 377.2,345.4 377.8,345.7 378.4,346.3 379.1,345.9 379.7,345.1 380.3,344.9 380.9,345.5 381.6,344.9 382.2,345.6 382.8,344.7 383.4,345.7 384.1,345.1 384.7,345.0 385.3,345.0 385.9,344.2 386.6,343.6 387.2,343.1 387.8,342.2 388.4,343.6 389.1,342.6 389.7,341.3 390.3,343.0 390.9,341.8 391.6,341.6 392.2,340.9 392.8,339.8 393.4,341.1 394.1,338.3 394.7,338.0 395.3,338.8 395.9,335.9 396.6,336.0 397.2,335.2 397.8,333.8 398.4,334.4 399.1,332.1 399.7,330.0 400.3,330.0 400.9,327.8 401.6,328.4 402.2,327.7 402.8,326.7 403.4,323.6 404.1,324.0 404.7,322.1 405.3,321.5 405.9,320.0 406.6,319.0 407.2,318.3 407.8,319.2 408.4,317.6 409.1,319.4 409.7,316.9 410.3,318.8 410.9,317.6 411.6,318.1 412.2,320.4 412.8,320.5 413.4,321.8 414.1,321.8 414.7,322.8 415.3,322.2 415.9,324.2 416.6,324.5 417.2,326.2 417.8,324.5 418.4,325.3 419.1,327.4 419.7,328.6 420.3,328.0 420.9,329.1 421.6,329.2 422.2,329.2 422.8,329.8 423.4,330.5 424.1,329.6 424.7,330.7 425.3,332.1 425.9,331.4 426.6,332.3 427.2,332.2 427.8,332.9 428.4,333.8 429.1,334.3 429.7,335.0 430.3,334.1 430.9,333.7 431.6,334.2 432.2,333.8 432.8,334.4 433.4,335.5 434.1,335.8 434.7,335.2 435.3,335.2 435.9,335.3 436.6,335.7 437.2,336.7 437.8,336.4 438.4,338.0 439.1,337.3 439.7,336.8 440.3,337.1 440.9,336.3 441.6,338.0 442.2,338.2 442.8,337.3 443.4,338.3 444.1,337.3 444.7,337.2 445.3,337.3 445.9,337.4 446.6,338.4 447.2,338.6 447.8,338.9 448.4,337.5 449.1,339.2 449.7,338.6 450.3,338.4 450.9,338.8 451.5,338.6 452.1,338.1 452.7,338.6 453.3,339.3 453.9,339.5 454.5,340.0 455.1,338.4 455.7,340.1 456.3,339.9 456.9,339.8 457.5,340.5 458.1,338.5 458.7,340.1 459.3,340.4 459.9,338.6 460.5,339.8 461.1,340.7 461.7,339.2 462.3,340.6 462.9,340.7 463.5,339.6 464.1,339.0 464.7,339.2 465.3,340.7 466.0,338.3 466.6,336.7 467.3,335.6 468.2,326.7 469.1,315.1 469.7,312.9 470.3,313.4 470.9,310.2 471.6,308.7 472.2,310.2 472.8,308.6 473.4,308.1 474.1,310.1 474.7,308.6 475.3,308.7 475.9,310.4 476.6,308.8 477.2,310.8 477.8,309.8 478.4,310.1 479.1,310.3 479.7,311.4 480.3,311.8 480.9,311.8 481.6,312.5 482.2,312.3 482.8,314.0 483.4,314.8 484.1,314.8 484.7,315.5 485.3,314.3 485.9,315.2 486.6,315.6 487.2,316.0 487.8,318.5 488.4,318.9 489.1,319.4 489.7,319.1 490.3,318.5 490.9,319.9 491.6,319.6 492.2,322.3 492.8,321.4 493.4,322.1 494.1,324.3 494.7,323.1 495.3,325.5 495.9,325.5 496.6,327.8 497.2,327.9 497.8,331.2 498.4,331.5 499.1,332.8 499.7,334.7 500.3,335.6 500.9,335.9 501.6,336.7 502.2,338.8 502.8,338.6 503.4,341.7 504.1,341.6 504.7,341.6 505.3,342.5 505.9,342.4 506.6,343.4 507.2,344.4 507.8,344.5 508.4,344.8 509.1,345.2 509.7,345.6 510.3,346.3 510.9,345.4 511.6,346.2 512.2,345.5 512.8,344.5 513.4,344.6 514.0,346.2 514.7,345.3 515.3,345.0 515.9,345.3 516.5,346.0 517.2,344.9 517.8,344.8 518.4,344.8 519.0,343.9 519.7,345.1 520.3,344.9 520.9,346.8 521.5,348.6 522.2,348.6 522.8,349.2 523.4,347.9 524.0,349.9 524.6,347.8 525.2,349.6 525.8,347.9 526.4,349.4 527.0,348.1 527.6,347.7 528.2,348.8 528.8,349.5 529.4,349.5 530.0,349.6 530.6,349.9 531.2,347.6 531.8,348.4 532.4,347.8 533.0,349.3 533.6,348.6 534.2,349.3 534.8,349.4 535.4,349.9 536.0,349.1 536.6,349.6 537.2,348.8 537.8,347.7 538.4,349.6 539.0,347.7 539.6,347.7 540.2,349.5 540.8,348.2 541.4,349.1 542.0,347.6 542.6,348.0 543.2,349.2 543.8,347.6 544.5,348.7 545.1,349.7 545.7,348.0 546.3,349.2 546.9,349.3 547.5,349.0 548.1,349.3 548.7,349.2 549.3,347.5 549.9,348.0 550.5,348.8 551.1,349.8 551.7,348.0 552.3,348.9 552.9,347.8 553.5,349.5 554.1,348.6 554.7,348.8 555.3,349.1" fill="none" stroke="#19a35c" stroke-width="1.60" stroke-linejoin="round" stroke-linecap="round"/>
<rect x="356.5" y="271.2" width="48" height="3.5" fill="#000"/>
<text x="360.1" y="268.8" font-size="11.6" textLength="86.5">Suramin 100 µM</text>
<rect x="464.2" y="271.2" width="31.6" height="3.5" fill="#000"/>
<text x="465.5" y="268.8" font-size="11.6" textLength="65">ATP 100 µM</text>
<g font-size="17.5" font-weight="bold">
<text x="25.6" y="23.3" font-size="16.9" textLength="12.6" lengthAdjust="spacingAndGlyphs">A</text>
<text x="321.9" y="22.6">B</text>
<text x="20.6" y="219.6" font-size="19.6">C</text>
<text x="320.1" y="219.3" font-size="18.6">D</text>
</g>
</svg>
</body></html>
